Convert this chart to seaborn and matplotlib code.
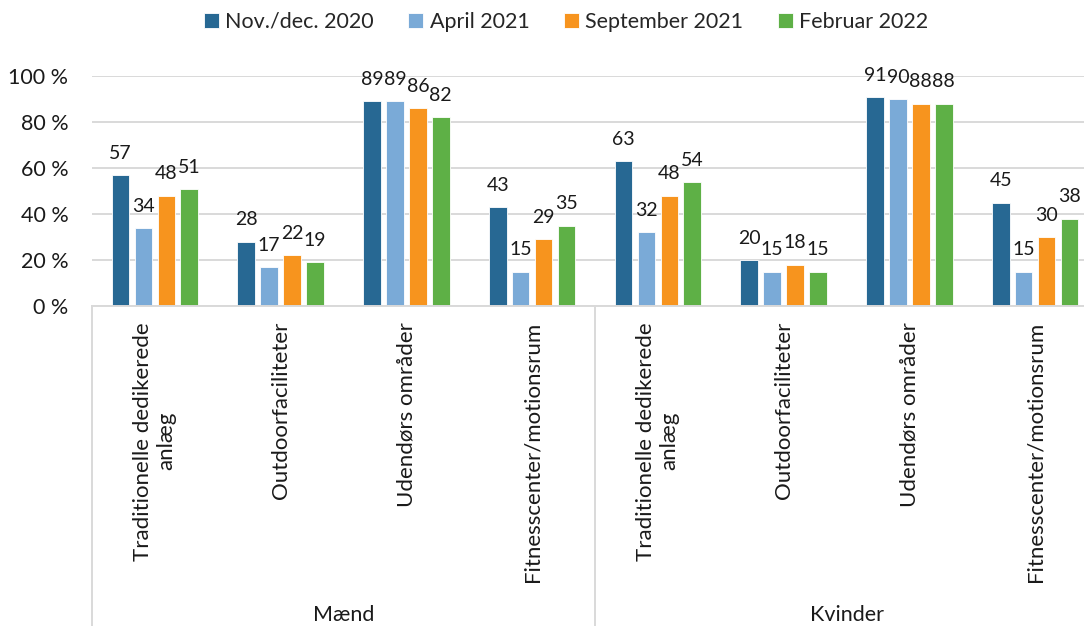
import pandas as pd
import seaborn as sns
import matplotlib.pyplot as plt
import matplotlib.transforms as mtransforms

genders = ['Mænd', 'Kvinder']
places = ['Traditionelle dedikerede\nanlæg', 'Outdoorfaciliteter',
          'Udendørs områder', 'Fitnesscenter/motionsrum']
periods = ['Nov./dec. 2020', 'April 2021', 'September 2021', 'Februar 2022']

# order: Mænd x 4 places, then Kvinder x 4 places
nov_2020 = [57, 28, 89, 43, 63, 20, 91, 45]
apr_2021 = [34, 17, 89, 15, 32, 15, 90, 15]
sep_2021 = [48, 22, 86, 29, 48, 18, 88, 30]
feb_2022 = [51, 19, 82, 35, 54, 15, 88, 38]

colors = ['#276893', '#7aaad7', '#f7941e', '#5eb046']

slots = [g + '|' + p for g in genders for p in places]
rows = []
for period, vals in zip(periods, [nov_2020, apr_2021, sep_2021, feb_2022]):
    for slot, v in zip(slots, vals):
        rows.append({'slot': slot, 'period': period, 'pct': v})
df = pd.DataFrame(rows)

sns.set_theme(style='white')
plt.rcParams['font.family'] = ['Lato', 'DejaVu Sans']
grid_col = '#d9d9d9'

fig = plt.figure(figsize=(10.84, 6.26), dpi=100)
ax = fig.add_axes([92 / 1084, 320 / 626, 1006 / 1084, 230 / 626])

sns.barplot(data=df, x='slot', y='pct', hue='period', order=slots,
            hue_order=periods, palette=colors, saturation=1, width=0.73, gap=0.23,
            edgecolor='white', linewidth=0.6, ax=ax)

for cont in ax.containers:
    ax.bar_label(cont, fmt='%g', padding=9.5, fontsize=14, color='#1a1a1a')

handles, labels = ax.get_legend_handles_labels()
ax.get_legend().remove()
fig.legend(handles, labels, loc='center', bbox_to_anchor=(566 / 1084, 1 - 22 / 626),
           ncol=4, frameon=False, fontsize=15.5, handlelength=0.7, handleheight=0.7,
           handletextpad=0.3, columnspacing=1.6)

ax.set_ylim(0, 100)
ax.set_xlim(-0.5, 7.5)
ax.set_yticks(range(0, 101, 20))
ax.set_yticklabels([f'{t} %' for t in range(0, 101, 20)], fontsize=15.5, color='#1a1a1a')
ax.set_xticks(range(len(slots)))
ax.set_xticklabels(places * 2, rotation=90, va='top', ha='center',
                   multialignment='center', fontsize=16, color='#1a1a1a')
ax.tick_params(axis='x', length=0, pad=11.5)
ax.tick_params(axis='y', length=0, pad=17)
ax.set_xlabel('')
ax.set_ylabel('')

ax.yaxis.grid(True, color=grid_col, lw=1.4)
ax.set_axisbelow(True)
for s in ['left', 'top', 'right']:
    ax.spines[s].set_visible(False)
ax.spines['bottom'].set_color(grid_col)
ax.spines['bottom'].set_linewidth(1.4)

trans = mtransforms.blended_transform_factory(ax.transData, ax.transAxes)
for xx in [-0.5, 3.5, 7.5]:
    ax.plot([xx, xx], [0, -1.45], transform=trans, color=grid_col, lw=1.4, clip_on=False)
for i, g in enumerate(genders):
    ax.text(1.5 + 4 * i, -1.343, g, transform=trans, ha='center', va='center',
            fontsize=15.5, color='#1a1a1a')

fig.savefig('out.png', dpi=100)
